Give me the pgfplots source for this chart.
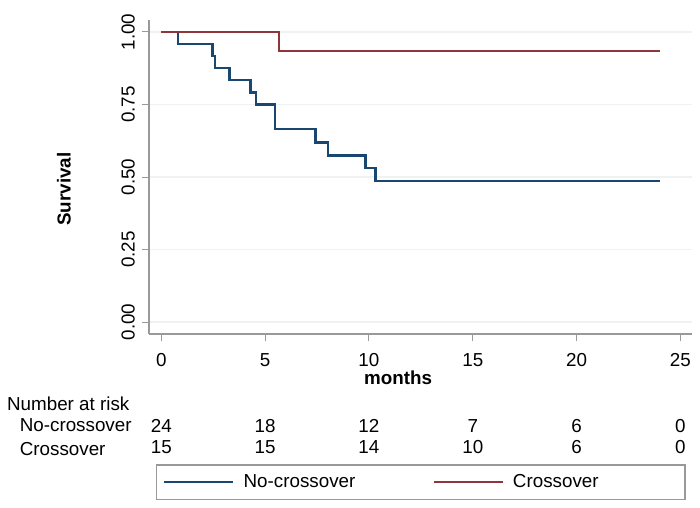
\documentclass[border=0pt]{standalone}
\usepackage{fontspec}
\setmainfont{Liberation Sans}
\usepackage{pgfplots}
\pgfplotsset{compat=1.18}
\definecolor{kmblue}{HTML}{1A476F}
\definecolor{kmred}{HTML}{90353B}
\definecolor{axgray}{HTML}{999999}
\definecolor{gridc}{HTML}{EEF2F3}
\newcommand{\fs}{\fontsize{18.8pt}{22pt}\selectfont}
\begin{document}
\begin{tikzpicture}[font=\fs]
\begin{axis}[
  name=ax,
  scale only axis,
  width=543pt, height=314pt,
  xmin=-0.593, xmax=25.56,
  ymin=-0.0413, ymax=1.0413,
  axis lines=left,
  axis line style={-, draw=axgray, line width=1.2pt},
  clip=false,
  xtick={0,5,10,15,20,25},
  ytick={0,0.25,0.5,0.75,1},
  tick align=outside,
  major tick length=7pt,
  tick style={draw=axgray, line width=1pt},
  ymajorgrids,
  grid style={draw=gridc, line width=1.4pt},
  /pgf/number format/assume math mode=true,
  tick label style={font=\fs},
  yticklabel style={rotate=90, anchor=south, inner xsep=0pt, inner ysep=7pt,
    /pgf/number format/.cd, fixed, fixed zerofill, precision=2},
  xticklabel style={inner sep=0pt, yshift=-12pt},
  xlabel={\bfseries months},
  ylabel={\bfseries Survival},
  every axis x label/.style={at={(axis description cs:0.4586,0)}, anchor=base, yshift=-50.3pt},
  every axis y label/.style={at={(axis description cs:-0.1565,0.4618)}, rotate=90, anchor=center},
  legend style={draw=none, fill=none, inner sep=0pt, outer sep=0pt,
    at={(axis description cs:0.02634,-0.47134)}, anchor=west,
    legend columns=2, font=\fs,
    /tikz/every odd column/.append style={column sep=7pt},
    /tikz/every even column/.append style={column sep=75.3pt}},
  legend image code/.code={\draw[#1] (0pt,0pt) -- (69pt,0pt);},
]
\addplot[const plot, color=kmblue, line width=2.3pt] coordinates {
  (0,1) (0.79,0.9583) (2.46,0.9167) (2.58,0.875) (3.29,0.8333)
  (4.30,0.7917) (4.56,0.75) (5.46,0.6667) (7.42,0.619) (8.03,0.574)
  (9.83,0.530) (10.32,0.486) (24,0.486)
};
\addlegendentry{No-crossover}
\addplot[const plot, color=kmred, line width=2.3pt] coordinates {
  (0,1) (5.68,0.9333) (24,0.9333)
};
\addlegendentry{Crossover}
% number at risk table
\node[anchor=base west, xshift=-157.7pt, yshift=-88.7pt] at (axis cs:0,0) {Number at risk};
\node[anchor=base west, xshift=-145pt, yshift=-109.7pt] at (axis cs:0,0) {No-crossover};
\node[anchor=base west, xshift=-145pt, yshift=-133pt] at (axis cs:0,0) {Crossover};
\node[anchor=base, yshift=-110.5pt] at (axis cs:0,0) {24};
\node[anchor=base, yshift=-110.5pt] at (axis cs:5,0) {18};
\node[anchor=base, yshift=-110.5pt] at (axis cs:10,0) {12};
\node[anchor=base, yshift=-110.5pt] at (axis cs:15,0) {7};
\node[anchor=base, yshift=-110.5pt] at (axis cs:20,0) {6};
\node[anchor=base, yshift=-110.5pt] at (axis cs:25,0) {0};
\node[anchor=base, yshift=-131.5pt] at (axis cs:0,0) {15};
\node[anchor=base, yshift=-131.5pt] at (axis cs:5,0) {15};
\node[anchor=base, yshift=-131.5pt] at (axis cs:10,0) {14};
\node[anchor=base, yshift=-131.5pt] at (axis cs:15,0) {10};
\node[anchor=base, yshift=-131.5pt] at (axis cs:20,0) {6};
\node[anchor=base, yshift=-131.5pt] at (axis cs:25,0) {0};
\end{axis}
\draw[draw=axgray, line width=1.2pt] ([shift={(7.7pt,-131pt)}]ax.south west) rectangle ([shift={(536pt,-165.3pt)}]ax.south west);
\pgfresetboundingbox
\path[use as bounding box] ([shift={(-149pt,-173pt)}]ax.south west) rectangle ([shift={(551pt,334pt)}]ax.south west);
\end{tikzpicture}
\end{document}
